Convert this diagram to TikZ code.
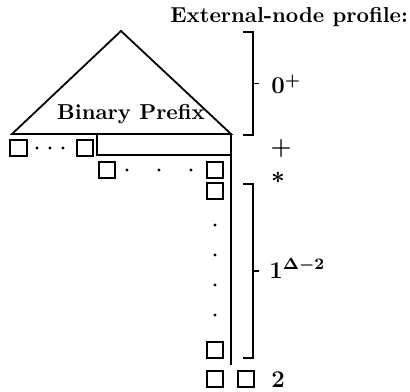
\documentclass[tikz,border=0pt]{standalone}
\usepackage{tikz}
\usetikzlibrary{positioning, calc}
\tikzset{
    leafNode/.style={rectangle, draw=black, line width=0.9pt, inner sep=0pt, minimum size=8.3pt},
    dotMark/.style={circle, fill=black, inner sep=0pt, minimum size=1.6pt},
    profText/.style={inner sep=0pt, font=\fontsize{10.8}{13}\selectfont\bfseries\boldmath},
    countText/.style={inner sep=0pt, font=\fontsize{12}{14}\selectfont\bfseries\boldmath},
    treeLine/.style={line width=0.9pt},
    brktLine/.style={line width=0.9pt}
}

\begin{document}
\begin{tikzpicture}[x=0.5pt, y=0.5pt]

        \useasboundingbox (0,0) rectangle (410,391);

        % Title
        \node[profText, anchor=base west] (title) at (170,368) {External-node profile:};

        % Coordinates of the prefix tree
        \coordinate (apex) at (121,360);
        \coordinate (baseL) at (12,257);
        \coordinate (baseR) at (231,257);
        \coordinate (boxL) at (97,257);
        \coordinate (boxR) at (231,236);
        \coordinate (spineEnd) at (231,26);

        % Triangle, box and spine
        \draw[treeLine] (baseL) -- (apex) -- (baseR) -- cycle;
        \draw[treeLine] (boxL) |- (boxR);
        \draw[treeLine] (baseR) -- (spineEnd);
        \node[profText, anchor=base] (prefix) at (131,271) {Binary Prefix};

        % External nodes
        \node[leafNode] (A1) at (18.5,243) {};
        \node[leafNode] (A2) at (85,243) {};
        \node[leafNode] (B1) at (107,221) {};
        \node[leafNode] (B2) at (215,221) {};
        \node[leafNode] (C1) at (215,200) {};
        \node[leafNode] (D1) at (215,41) {};
        \node[leafNode] (E1) at (215,12) {};
        \node[leafNode] (E2) at (246,12) {};

        % Dots
        \foreach \x in {37,50,63} {
            \node[dotMark] at (\x,243) {};
        }
        \foreach \x in {127,159,191} {
            \node[dotMark] at (\x,221) {};
        }
        \foreach \y in {166,136,106,76} {
            \node[dotMark] at (215,\y) {};
        }

        % Bracket Macro
        % #1 = top, #2 = bottom, #3 = name of tick end
        \def\drawBracket#1#2#3{
            \draw[brktLine] (243,#1) -- (253,#1) -- (253,#2) -- (243,#2);
            \coordinate (#3) at (259,{(#1+#2)/2});
            \draw[brktLine] (253,{(#1+#2)/2}) -- (#3);
        }

        \drawBracket{359}{256}{T1}
        \drawBracket{207}{33}{T2}

        % Profile labels
        \node[countText] (P2) at (281,243) {$+$};
        \node[countText] (P3) at (278,213) {$*$};
        \node[countText, anchor=base west] (P1) at (271,297) {$0^{+}$};
        \node[countText, anchor=base west] (P4) at (269,113) {$1^{\Delta-2}$};
        \node[countText, anchor=base west] (P5) at (271,4) {$2$};

\end{tikzpicture}
\end{document}
